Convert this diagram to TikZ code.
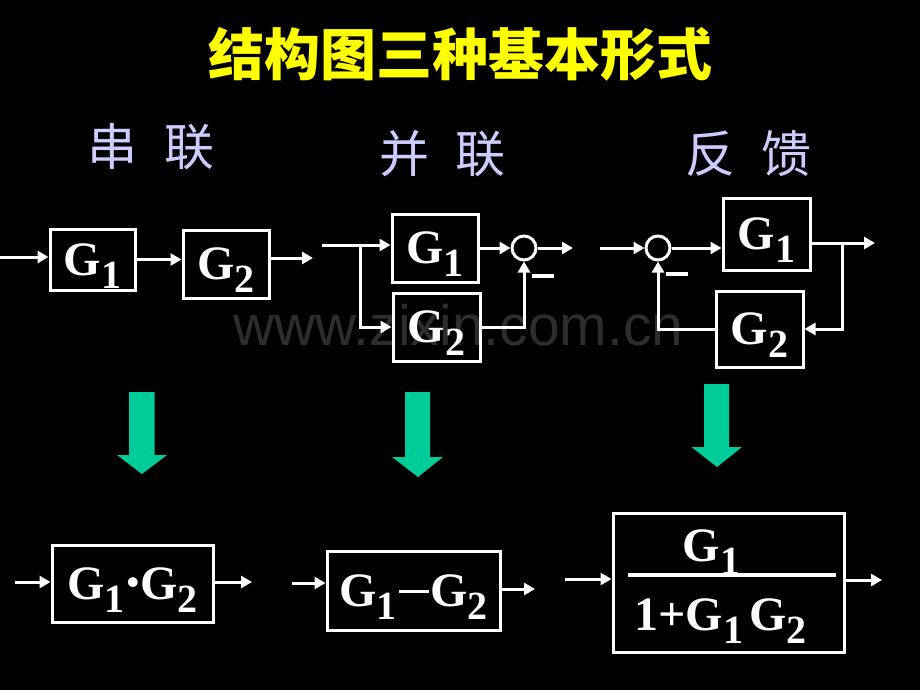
\documentclass[tikz,border=0pt]{standalone}
\usepackage{fontspec}
\setmainfont{Liberation Serif}
\newfontfamily\cjkfont{Noto Sans CJK SC}
\newfontfamily\wmfont{Liberation Sans}
\usetikzlibrary{arrows.meta}
\definecolor{ttl}{RGB}{255,255,0}
\definecolor{hdr}{RGB}{204,204,255}
\definecolor{grn}{RGB}{0,204,153}
\definecolor{wm}{RGB}{45,45,45}
\newcommand{\gfont}{\bfseries\fontsize{48}{48}\selectfont}
\newcommand{\Gx}[1]{G\smash{\raisebox{-13pt}{\fontsize{40}{40}\selectfont #1}}}
\newcommand{\mdot}{\hspace{2pt}\raisebox{5pt}{\fontsize{36}{36}\selectfont •}\hspace{1pt}}
\newcommand{\mbar}{\hspace{2pt}\rule[13pt]{30pt}{3.5pt}\hspace{2pt}}
\begin{document}
\begin{tikzpicture}[x=1pt,y=-1pt,
  wire/.style={draw=white, line width=3pt},
  arr/.style={wire, -{Triangle[length=11pt,width=12pt]}},
  blk/.style={draw=white, line width=3pt, inner sep=0pt, text=white, font=\gfont},
  sumpt/.style={circle, draw=white, line width=3pt, inner sep=0pt, minimum size=24pt},
  minusbar/.style={fill=white, inner sep=0pt, minimum width=22pt, minimum height=4pt},
  hdrtxt/.style={text=hdr, font=\cjkfont\fontsize{50}{50}\selectfont, inner sep=0pt},
  bigarrow/.style={fill=grn}]
\fill[black] (0,0) rectangle (920,690);
\useasboundingbox (0,0) rectangle (920,690);

% watermark
\node[text=wm, font=\wmfont\fontsize{57}{57}\selectfont, anchor=base, inner sep=0pt] (wmk) at (458.5,345) {www.zixin.com.cn};

% title and headers
\node[text=ttl, font=\cjkfont\bfseries\fontsize{56}{56}\selectfont, inner sep=0pt] (title) at (460,54) {结构图三种基本形式};
\node[hdrtxt] (h1) at (150.5,147) {串\hspace{27pt}联};
\node[hdrtxt] (h2) at (442,153.5) {并\hspace{26pt}联};
\node[hdrtxt] (h3) at (748,153.5) {反\hspace{26pt}馈};

% series
\node[blk, minimum width=85pt, minimum height=61pt] (s1) at (92.5,259.5) {\Gx{1}};
\node[blk, minimum width=86pt, minimum height=68pt] (s2) at (226,264) {\Gx{2}};
\coordinate (sin) at (0,257);
\coordinate (sout) at (313,258);
\draw[arr] (sin) -- (sin -| s1.west);
\draw[arr] (s1.east) -- (s1.east -| s2.west);
\draw[arr] (sout -| s2.east) -- (sout);

% parallel
\node[blk, minimum width=86pt, minimum height=68pt] (p1) at (435,248) {\Gx{1}};
\node[blk, minimum width=87pt, minimum height=68pt] (p2) at (436.5,327) {\Gx{2}};
\node[sumpt] (ps) at (524,248) {};
\node[minusbar] (pm) at (543,276) {};
\coordinate (pin) at (322,245);
\coordinate (pbr) at (360,245);
\coordinate (pout) at (573,248);
\draw[arr] (pin) -- (pin -| p1.west);
\draw[arr] (pbr) |- (p2.west);
\draw[arr] (p1.east) -- (ps.west);
\draw[arr] (p2.east) -| (ps.south);
\draw[arr] (ps.east) -- (pout);

% feedback
\node[blk, minimum width=87pt, minimum height=72pt] (f1) at (766.5,234) {\Gx{1}};
\node[blk, minimum width=87pt, minimum height=76pt] (f2) at (759.5,329) {\Gx{2}};
\node[sumpt] (fs) at (658,248) {};
\node[minusbar] (fm) at (677,274) {};
\coordinate (fin) at (600,248);
\coordinate (fout) at (875,243);
\coordinate (fbr) at (842,243);
\draw[arr] (fin) -- (fs.west);
\draw[arr] (fs.east) -- (fs.east -| f1.west);
\draw[arr] (fout -| f1.east) -- (fout);
\draw[arr] (fbr) |- (f2.east);
\draw[arr] (f2.west) -| (fs.south);

% green arrows
\fill[bigarrow] (129,392) -- (154.5,392) -- (154.5,455) -- (167,455) -- (142,474) -- (117,455) -- (129,455) -- cycle;
\fill[bigarrow] (405,392) -- (430,392) -- (430,457) -- (443,457) -- (418,477) -- (392,457) -- (405,457) -- cycle;
\fill[bigarrow] (704,384) -- (729,384) -- (729,447) -- (742,447) -- (717,467) -- (691.5,447) -- (704,447) -- cycle;

% bottom results
\node[blk, minimum width=161pt, minimum height=77pt] (ba) at (132.5,583.5) {\Gx{1}\mdot\Gx{2}};
\coordinate (ain) at (15,582);
\coordinate (aout) at (252,582);
\draw[arr] (ain) -- (ain -| ba.west);
\draw[arr] (aout -| ba.east) -- (aout);

\node[blk, minimum width=173pt, minimum height=79pt] (bb) at (413.5,590.5) {\Gx{1}\mbar\Gx{2}};
\coordinate (bin) at (292,583);
\coordinate (bout) at (535,589);
\draw[arr] (bin) -- (bin -| bb.west);
\draw[arr] (bout -| bb.east) -- (bout);

\node[blk, minimum width=231pt, minimum height=139pt] (bc) at (728.5,582.5) {};
\node[text=white, font=\gfont, inner sep=0pt] (num) at (711.5,546) {\Gx{1}};
\node[minusbar, minimum width=208pt] (bar) at (732,575) {};
\node[text=white, font=\gfont, inner sep=0pt] (den) at (720.5,614.5) {1+\Gx{1}\hspace{6pt}\Gx{2}};
\coordinate (cin) at (565,579);
\coordinate (cout) at (882,580);
\draw[arr] (cin) -- (cin -| bc.west);
\draw[arr] (cout -| bc.east) -- (cout);
\end{tikzpicture}
\end{document}
